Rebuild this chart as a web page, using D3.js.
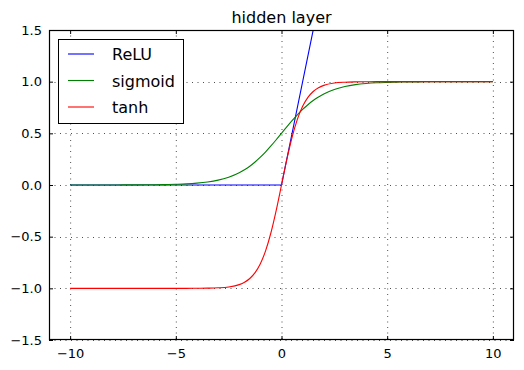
<!DOCTYPE html>
<html>
<head>
<meta charset="utf-8">
<script src="https://cdn.jsdelivr.net/npm/d3@7"></script>
<style>
  body { margin: 0; background: #fff; }
  svg { display: block; font-family: "DejaVu Sans", sans-serif; }
</style>
</head>
<body>
<svg width="524" height="370"></svg>
<script>
// sample points
const xs = [-10, -9.5, -9, -8.5, -8, -7.5, -7, -6.5, -6, -5.5, -5, -4.5, -4, -3.5, -3, -2.5, -2,
  -1.75, -1.5, -1.25, -1, -0.75, -0.5, -0.25, 0, 0.25, 0.5, 0.75, 1, 1.25, 1.5, 1.75,
  2, 2.5, 3, 3.5, 4, 4.5, 5, 5.5, 6, 6.5, 7, 7.5, 8, 8.5, 9, 9.5, 10];
const sigmoidVals = [0, 0, 0, 0, 0, 0.001, 0.001, 0.002, 0.002, 0.004, 0.007, 0.011, 0.018, 0.029, 0.047, 0.076, 0.119,
  0.148, 0.182, 0.223, 0.269, 0.321, 0.378, 0.438, 0.5, 0.562, 0.622, 0.679, 0.731, 0.777, 0.818, 0.852,
  0.881, 0.924, 0.953, 0.971, 0.982, 0.989, 0.993, 0.996, 0.998, 0.998, 0.999, 0.999, 1, 1, 1, 1, 1];
const tanhVals = [-1, -1, -1, -1, -1, -1, -1, -1, -1, -1, -1, -1, -0.999, -0.998, -0.995, -0.987, -0.964,
  -0.941, -0.905, -0.848, -0.762, -0.635, -0.462, -0.245, 0, 0.245, 0.462, 0.635, 0.762, 0.848, 0.905, 0.941,
  0.964, 0.987, 0.995, 0.998, 0.999, 1, 1, 1, 1, 1, 1, 1, 1, 1, 1, 1, 1];
const reluX = [-10, 0, 10];
const reluVals = [0, 0, 10];

const seriesNames = ["ReLU", "sigmoid", "tanh"];
const seriesColors = ["#0000ff", "#008000", "#ff0000"];
const xTicks = [-10, -5, 0, 5, 10];
const yTicks = [-1.5, -1, -0.5, 0, 0.5, 1, 1.5];

const svg = d3.select("svg");
const box = {left: 49, right: 514, top: 30, bottom: 340};

const x = d3.scaleLinear().domain([-11, 11]).range([box.left, box.right]);
const y = d3.scaleLinear().domain([-1.5, 1.5]).range([box.bottom, box.top]);

svg.append("clipPath").attr("id", "clip")
  .append("rect")
  .attr("x", box.left).attr("y", box.top)
  .attr("width", box.right - box.left).attr("height", box.bottom - box.top);

// grid
const grid = svg.append("g").attr("stroke", "#222").attr("stroke-width", 0.8).attr("stroke-dasharray", "1,4.5");
grid.selectAll(".gx").data(xTicks).enter().append("line")
  .attr("x1", d => x(d) + 0.5).attr("x2", d => x(d) + 0.5)
  .attr("y1", box.top).attr("y2", box.bottom);
grid.selectAll(".gy").data(yTicks).enter().append("line")
  .attr("y1", d => Math.round(y(d)) + 0.5).attr("y2", d => Math.round(y(d)) + 0.5)
  .attr("x1", box.left).attr("x2", box.right);

// curves
const plot = svg.append("g").attr("clip-path", "url(#clip)");
const lineSmooth = d3.line().x(d => x(d[0])).y(d => y(d[1])).curve(d3.curveMonotoneX);
const lineStraight = d3.line().x(d => x(d[0])).y(d => y(d[1]));

const series = [
  {pts: d3.zip(reluX, reluVals), gen: lineStraight},
  {pts: d3.zip(xs, sigmoidVals), gen: lineSmooth},
  {pts: d3.zip(xs, tanhVals), gen: lineSmooth}
];
series.forEach((s, i) => {
  plot.append("path")
    .attr("d", s.gen(s.pts))
    .attr("fill", "none")
    .attr("stroke", seriesColors[i])
    .attr("stroke-width", 1.1);
});

// axes, ticks pointing in on all four sides
const fmtX = d3.format("d"), fmtY = d3.format(".1f");
const styleAxis = g => {
  g.select(".domain").remove();
  g.selectAll("text").attr("fill", "#000").style("font-size", "13px").style("font-family", "DejaVu Sans");
  g.selectAll("line").attr("stroke", "#000");
};
svg.append("g").attr("transform", `translate(0,${box.bottom})`)
  .call(d3.axisBottom(x).tickValues(xTicks).tickFormat(fmtX).tickSize(-4).tickPadding(9))
  .call(styleAxis);
svg.append("g").attr("transform", `translate(0,${box.top})`)
  .call(d3.axisTop(x).tickValues(xTicks).tickFormat("").tickSize(-4))
  .call(styleAxis);
svg.append("g").attr("transform", `translate(${box.left},0)`)
  .call(d3.axisLeft(y).tickValues(yTicks).tickFormat(fmtY).tickSize(-4).tickPadding(7))
  .call(styleAxis);
svg.append("g").attr("transform", `translate(${box.right},0)`)
  .call(d3.axisRight(y).tickValues(yTicks).tickFormat("").tickSize(-4))
  .call(styleAxis);

svg.append("rect")
  .attr("x", box.left + 0.5).attr("y", box.top + 0.5)
  .attr("width", box.right - box.left - 1).attr("height", box.bottom - box.top - 1)
  .attr("fill", "none").attr("stroke", "#000").attr("stroke-width", 1.2);

// title
svg.append("text")
  .attr("x", (box.left + box.right) / 2).attr("y", 23)
  .attr("text-anchor", "middle")
  .style("font-size", "16px")
  .text("hidden layer");

// legend
const legend = svg.append("g");
legend.append("rect")
  .attr("x", 58.5).attr("y", 39.5).attr("width", 125).attr("height", 84)
  .attr("fill", "#fff").attr("stroke", "#000").attr("stroke-width", 1);
seriesNames.forEach((name, i) => {
  const ly = 54 + i * 26.5;
  legend.append("line")
    .attr("x1", 68).attr("x2", 94).attr("y1", ly).attr("y2", ly)
    .attr("stroke", seriesColors[i]).attr("stroke-width", 1.1);
  legend.append("text")
    .attr("x", 112).attr("y", ly + 6)
    .style("font-size", "16px")
    .text(name);
});
</script>
</body>
</html>
